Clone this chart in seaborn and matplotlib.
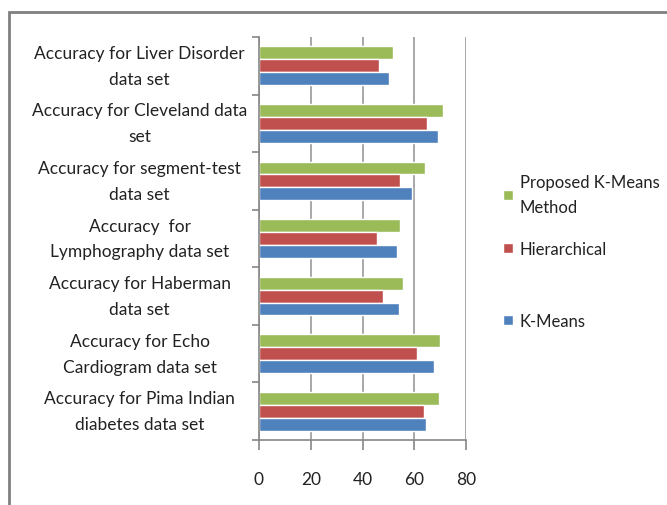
import pandas as pd
import matplotlib.pyplot as plt
import seaborn as sns
from matplotlib.patches import Rectangle, Patch
from matplotlib.ticker import FixedLocator

sns.set_theme(style="white")
plt.rcParams['font.family'] = ['Lato', 'DejaVu Sans']

datasets = [
    'Accuracy for Liver Disorder\ndata set',
    'Accuracy for Cleveland data\nset',
    'Accuracy for segment-test\ndata set',
    'Accuracy  for\nLymphography data set',
    'Accuracy for Haberman\ndata set',
    'Accuracy for Echo\nCardiogram data set',
    'Accuracy for Pima Indian\ndiabetes data set',
]
kmeans = [50.2, 69.2, 59.2, 53.4, 54.0, 67.7, 64.7]
hierarchical = [46.4, 65.0, 54.3, 45.6, 48.1, 60.9, 63.7]
proposed = [51.8, 71.2, 64.0, 54.3, 55.7, 69.9, 69.5]

methods = ['Proposed K-Means\nMethod', 'Hierarchical', 'K-Means']
colors = ['#9BBB59', '#C0504D', '#4F81BD']

df = pd.DataFrame({
    'Dataset': datasets * 3,
    'Method': [methods[0]] * 7 + [methods[1]] * 7 + [methods[2]] * 7,
    'Accuracy': proposed + hierarchical + kmeans,
})

fig = plt.figure(figsize=(6.67, 5.06), dpi=100)
ax = fig.add_axes([259 / 667, 1 - 441 / 506, 207 / 667, 403 / 506])

sns.barplot(data=df, y='Dataset', x='Accuracy', hue='Method', order=datasets,
            hue_order=methods, palette=colors, width=0.67, orient='h',
            saturation=1, ax=ax, legend=False)

ax.set_xlim(0, 80)
ax.set_ylim(6.5, -0.5)
ax.set_xticks([0, 20, 40, 60, 80])
ax.set_xlabel('')
ax.set_ylabel('')
ax.xaxis.grid(True, color='#9a9a9a', lw=1.2)
ax.set_axisbelow(True)

for s in ['top', 'right']:
    ax.spines[s].set_visible(False)
for s in ['left', 'bottom']:
    ax.spines[s].set_color('#868686')
    ax.spines[s].set_linewidth(1.2)

ax.tick_params(axis='x', length=7, width=1.2, color='#868686', labelsize=12.5,
               pad=15, labelcolor='#222222', bottom=True)
ax.set_yticks(range(len(datasets)))
ax.set_yticklabels(datasets, ha='center', va='center', linespacing=1.75)
ax.tick_params(axis='y', which='major', length=0, labelsize=12.5, pad=86,
               labelcolor='#222222')
ax.yaxis.set_minor_locator(FixedLocator([i - 0.5 for i in range(8)]))
ax.tick_params(axis='y', which='minor', length=5, width=1.2, color='#868686', left=True)

# legend entries, one per method, placed like the original
leg_y = [1 - 195.5 / 506, 1 - 250 / 506, 1 - 322 / 506]
for m, c, y in zip(methods, colors, leg_y):
    leg = fig.legend([Patch(facecolor=c)], [m], loc='center left',
                     bbox_to_anchor=(503 / 667, y), frameon=False, fontsize=12,
                     handlelength=0.6, handleheight=0.6, handletextpad=0.4,
                     borderpad=0, borderaxespad=0)
    for t in leg.get_texts():
        t.set_linespacing(1.75)
        t.set_color('#222222')

fig.patches.append(Rectangle((9 / 667, -0.1), 1.2, 1 - 13 / 506 + 0.1,
                             transform=fig.transFigure, fill=False,
                             edgecolor='#808080', lw=2))

plt.savefig('out.png', dpi=100)
